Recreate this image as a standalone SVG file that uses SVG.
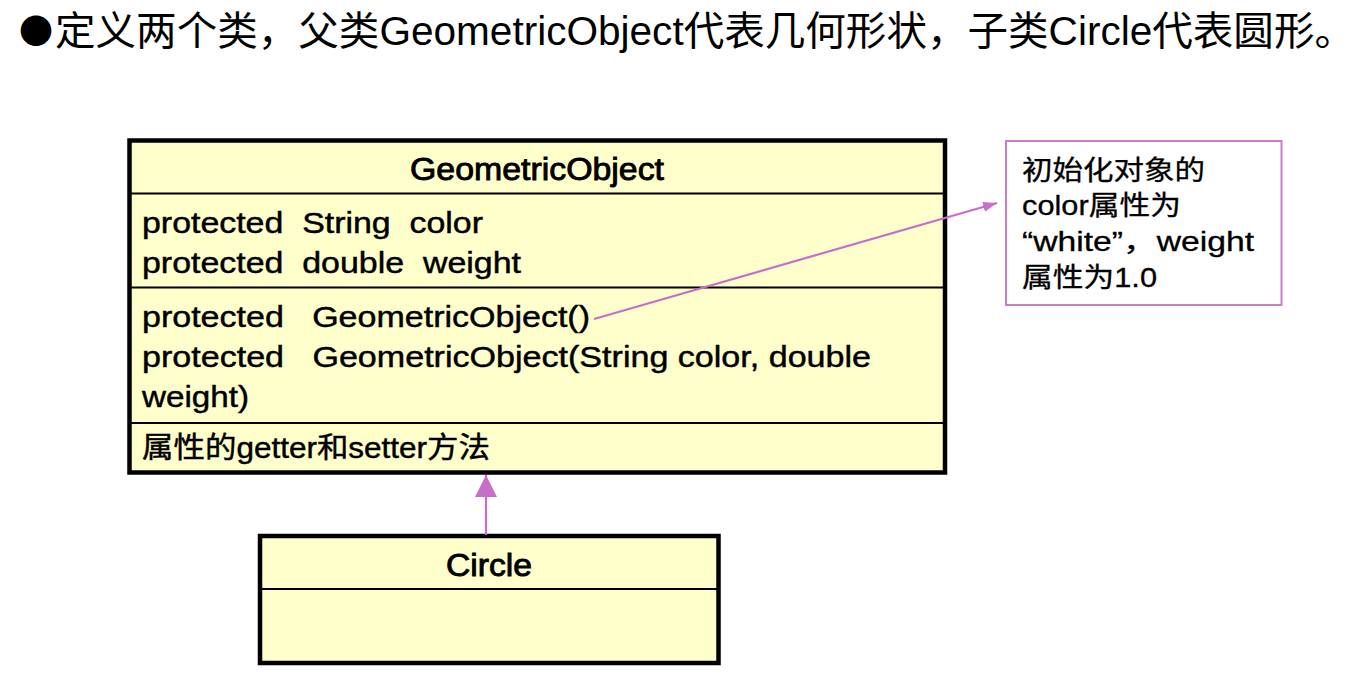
<svg xmlns="http://www.w3.org/2000/svg" width="1364" height="678" viewBox="0 0 1364 678">
  <style>
    .t { font-family: "Liberation Sans", "Noto Sans CJK SC", sans-serif; fill: #000; white-space: pre; }
    .title { font-size: 40px; }
    .body { font-size: 29px; stroke: #000; stroke-width: 0.45; }
    .head { font-size: 32px; stroke: #000; stroke-width: 0.9; }
    .note { font-size: 27px; stroke: #000; stroke-width: 0.3; }
    .box { fill: #FFFFCC; stroke: #000; stroke-width: 4.5; }
    .div { stroke: #000; stroke-width: 2.2; fill: none; }
    .conn { stroke: #C86DC8; stroke-width: 2.2; fill: none; }
  </style>
  <defs>
    <marker id="inherit" viewBox="0 0 22 22" refX="22" refY="11" markerWidth="22" markerHeight="22" markerUnits="userSpaceOnUse" orient="auto">
      <path d="M0,0 L22,11 L0,22 Z" fill="#C86DC8"/>
    </marker>
    <marker id="small" viewBox="0 0 14 10" refX="14" refY="5" markerWidth="14" markerHeight="10" markerUnits="userSpaceOnUse" orient="auto">
      <path d="M0,0 L14,5 L0,10 Z" fill="#C86DC8"/>
    </marker>
  </defs>
  <rect width="1364" height="678" fill="#fff"/>

  <text x="19" y="44" font-family="Noto Sans CJK SC, sans-serif" font-size="34" fill="#000">●</text>
  <text class="t title" x="55" y="45" textLength="1300" lengthAdjust="spacingAndGlyphs">定义两个类，父类GeometricObject代表几何形状，子类Circle代表圆形。</text>

  <g id="GeometricObject">
    <rect class="box" x="129.5" y="140.5" width="815.5" height="332"/>
    <line class="div" x1="129.5" y1="193.5" x2="945" y2="193.5"/>
    <line class="div" x1="129.5" y1="287.5" x2="945" y2="287.5"/>
    <line class="div" x1="129.5" y1="423" x2="945" y2="423"/>
    <text class="t head" x="410" y="180" textLength="254" lengthAdjust="spacingAndGlyphs">GeometricObject</text>
    <text class="t body" x="142" y="233" textLength="341" lengthAdjust="spacingAndGlyphs" xml:space="preserve">protected  String  color</text>
    <text class="t body" x="142" y="273" textLength="379" lengthAdjust="spacingAndGlyphs" xml:space="preserve">protected  double  weight</text>
    <text class="t body" x="142" y="327" textLength="448" lengthAdjust="spacingAndGlyphs" xml:space="preserve">protected   GeometricObject()</text>
    <text class="t body" x="142" y="367" textLength="729" lengthAdjust="spacingAndGlyphs" xml:space="preserve">protected   GeometricObject(String color, double</text>
    <text class="t body" x="142" y="407" textLength="107" lengthAdjust="spacingAndGlyphs">weight)</text>
    <text class="t body" x="142" y="458" textLength="348" lengthAdjust="spacingAndGlyphs">属性的getter和setter方法</text>
  </g>

  <g id="Circle">
    <rect class="box" x="260" y="536" width="458.5" height="127"/>
    <line class="div" x1="260" y1="589" x2="718.5" y2="589"/>
    <text class="t head" x="446" y="576" textLength="86" lengthAdjust="spacingAndGlyphs">Circle</text>
  </g>

  <g id="note">
    <rect x="1006" y="141" width="275.5" height="164" fill="#fff" stroke="#C87DC8" stroke-width="2"/>
    <text class="t note" x="1022" y="180" textLength="183" lengthAdjust="spacingAndGlyphs">初始化对象的</text>
    <text class="t note" x="1022" y="215" textLength="159" lengthAdjust="spacingAndGlyphs">color属性为</text>
    <text class="t note" x="1022" y="251" textLength="232" lengthAdjust="spacingAndGlyphs">“white”，weight</text>
    <text class="t note" x="1022" y="287" textLength="135" lengthAdjust="spacingAndGlyphs">属性为1.0</text>
  </g>

  <g id="connectors">
    <line class="conn" x1="486" y1="535" x2="486" y2="475" marker-end="url(#inherit)"/>
    <line class="conn" x1="594" y1="319" x2="997" y2="203" marker-end="url(#small)"/>
  </g>
</svg>
